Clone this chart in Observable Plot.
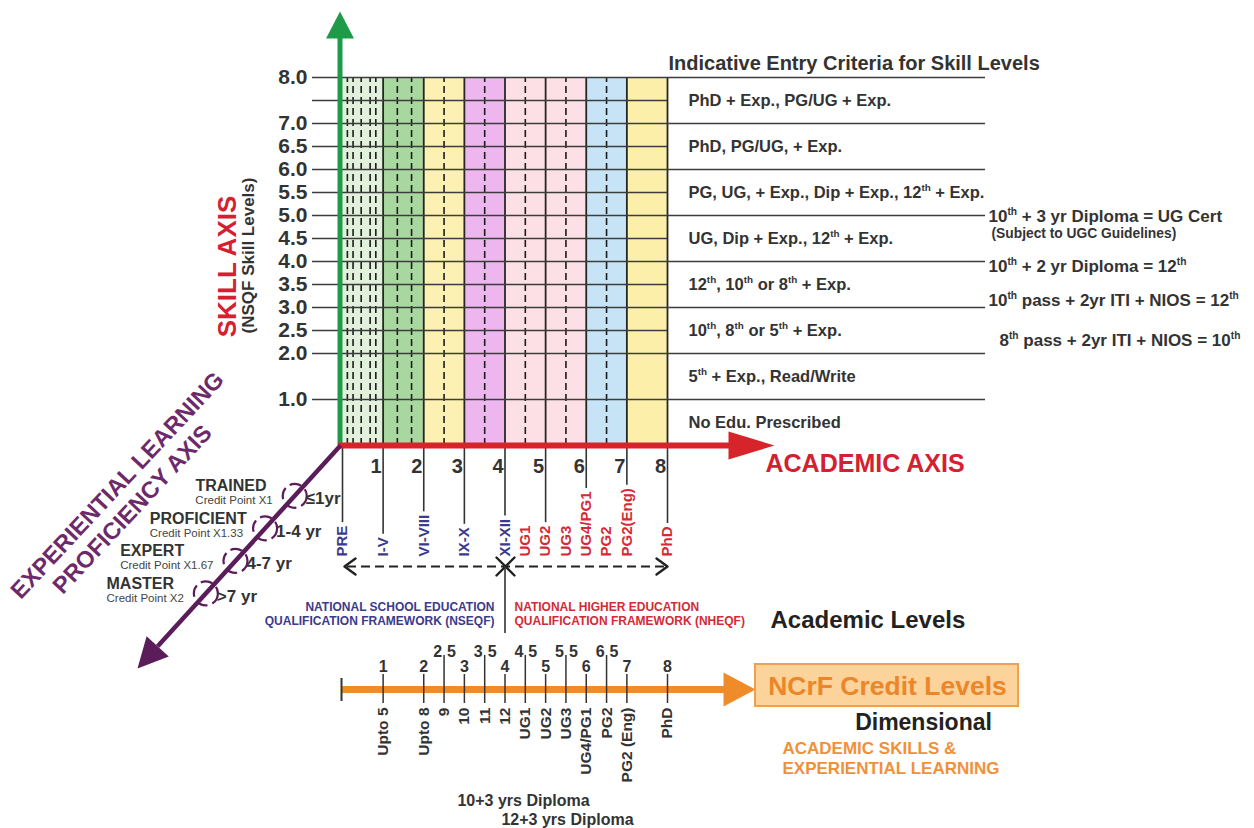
<!DOCTYPE html>
<html><head><meta charset="utf-8">
<script src="https://cdn.jsdelivr.net/npm/d3@7"></script>
<script src="https://cdn.jsdelivr.net/npm/@observablehq/plot@0.6"></script>
<style>
html,body{margin:0;padding:0;background:#fff;}
#chart{width:1254px;height:828px;overflow:hidden;}
</style></head><body><div id="chart"></div>
<script>
// ================= DATA =================
const academicLevels = [0,1,2,3,4,5,6,7,8];
const columnColors = ["#e2f1dc","#a9d7a0","#fcf1b2","#edb6ee","#fde0e5","#fde0e5","#c6e4f6","#fcefa9"];
const subLevelDashes = [0.12,0.26,0.46,0.68,0.82,1.35,1.7,2.5,3.5,4.5,5.5,6.5];
const skillTicks = [8,7.5,7,6.5,6,5.5,5,4.5,4,3.5,3,2.5,2,1];
const skillTickLabels = ["8.0","","7.0","6.5","6.0","5.5","5.0","4.5","4.0","3.5","3.0","2.5","2.0","1.0"];
const criteriaBands = [7.5,6.5,5.5,4.5,3.5,2.5,1.5,0.5];
const criteriaText = ["PhD + Exp., PG/UG + Exp.","PhD, PG/UG, + Exp.","PG, UG, + Exp., Dip + Exp., 12^th + Exp.","UG, Dip + Exp., 12^th + Exp.","12^th, 10^th or 8^th + Exp.","10^th, 8^th or 5^th + Exp.","5^th + Exp., Read/Write","No Edu. Prescribed"];
const equivalenceText = ["10^th + 3 yr Diploma = UG Cert","10^th + 2 yr Diploma = 12^th","10^th pass + 2yr ITI + NIOS = 12^th","8^th pass + 2yr ITI + NIOS = 10^th"];
const equivalenceSkill = [4.98,3.89,3.15,2.28];
const equivalenceNote = "(Subject to UGC Guidelines)";
const schoolLevels = [0,1,2,3,4];
const schoolLabels = ["PRE","I-V","VI-VIII","IX-X","XI-XII"];
const higherLevels = [4.5,5,5.5,6,6.5,7,8];
const higherLabels = ["UG1","UG2","UG3","UG4/PG1","PG2","PG2(Eng)","PhD"];
const creditLevels = [1,2,2.5,3,3.5,4,4.5,5,5.5,6,6.5,7,8];
const creditLabels = ["Upto 5","Upto 8","9","10","11","12","UG1","UG2","UG3","UG4/PG1","PG2","PG2 (Eng)","PhD"];
const diplomaNotes = ["10+3 yrs Diploma","12+3 yrs Diploma"];
const proficiency = ["TRAINED","PROFICIENT","EXPERT","MASTER"];
const creditPoints = ["Credit Point X1","Credit Point X1.33","Credit Point X1.67","Credit Point X2"];
const experience = ["≤1yr","1-4 yr","4-7 yr",">7 yr"];

// ================= LAYOUT =================
const FF = "'Liberation Sans', Arial, Helvetica, sans-serif";
const PX0 = 342, PXU = 40.625, PY0 = 445, PYU = 46;
const X = px => (px - PX0) / PXU;
const Y = py => (PY0 - py) / PYU;
const ctx = document.createElement("canvas").getContext("2d");
const textW = (s, size, weight = "bold") => { ctx.font = `${weight} ${size}px "Liberation Sans"`; return ctx.measureText(s).width; };
const poly = (pts, fill) => Plot.line(pts.map(([a, b]) => ({x: X(a), y: Y(b)})), {x: "x", y: "y", fill, stroke: "none"});
const txt = (data, o) => Plot.text(data, {fontWeight: "bold", fill: "#333", ...o});

// diagonal (experiential) axis geometry
const O = [340, 445], TIP = [137, 668];
const dl = Math.hypot(TIP[0] - O[0], TIP[1] - O[1]);
const u = [(TIP[0] - O[0]) / dl, (TIP[1] - O[1]) / dl];
const pp = [u[1], -u[0]];
const base = [TIP[0] - 30 * u[0], TIP[1] - 30 * u[1]];
const profItems = proficiency.map((name, i) => {
  const t = 68 + 44 * i;
  const cx = O[0] + t * u[0], cy = O[1] + t * u[1];
  const endX = cx - 22;
  const left = endX - textW(creditPoints[i], 11.5, "normal");
  return {name, credit: creditPoints[i], years: experience[i], cx, cy, endX, left};
});

// academic sub-labels
const acadItems = schoolLabels.map((l, i) => ({level: schoolLevels[i], label: l, color: "#3b3a8c"}))
  .concat(higherLabels.map((l, i) => ({level: higherLevels[i], label: l, color: "#d42a36"})));
const LABEL_BASE = 556;
const acadTicks = acadItems.filter(d => Number.isInteger(d.level))
  .map(d => ({level: d.level, top: LABEL_BASE - textW(d.label, 15) - 3}));

const creditItems = creditLevels.map((l, i) => ({level: l, label: creditLabels[i]}));
const halfCredit = creditLevels.filter(l => !Number.isInteger(l));
const intCredit = creditLevels.filter(l => Number.isInteger(l));

const marks = [
  // columns
  Plot.rect(columnColors.map((c, i) => ({c, a: academicLevels[i], b: academicLevels[i + 1]})), {x1: "a", x2: "b", y1: 0, y2: 8, fill: "c"}),
  Plot.ruleX(subLevelDashes, {x: d => d, y1: 0, y2: 8, stroke: "#1c1c1c", strokeWidth: 1.6, strokeDasharray: "7,4"}),
  Plot.ruleX(academicLevels.slice(1), {x: d => d, y1: 0, y2: 8, stroke: "#262626", strokeWidth: 1.8}),
  Plot.ruleY(skillTicks, {y: d => d, x1: X(312), x2: 8, stroke: "#3c3c3c", strokeWidth: 1.6}),
  Plot.ruleY(d3.range(1, 9), {y: d => d, x1: 8, x2: X(985), stroke: "#3c3c3c", strokeWidth: 1.6}),
  txt(skillTicks, {x: X(307), y: d => d, text: (d, i) => skillTickLabels[i], textAnchor: "end", fontSize: 21}),
  // skill axis
  Plot.ruleX([X(339.5)], {x: d => d, y1: 0, y2: Y(36), stroke: "#1d9b48", strokeWidth: 5}),
  poly([[339.5, 11], [325.5, 38], [353.5, 38]], "#1d9b48"),
  txt(["SKILL AXIS"], {x: X(227), y: Y(266), text: d => d, rotate: -90, fontSize: 26, fill: "#d42030"}),
  txt(["(NSQF Skill Levels)"], {x: X(248), y: Y(255), text: d => d, rotate: -90, fontSize: 17}),
  // entry criteria
  txt(["Indicative Entry Criteria for Skill Levels"], {x: X(668), y: Y(63), text: d => d, textAnchor: "start", fontSize: 20}),
  txt(criteriaBands, {x: X(688), y: d => d, text: (d, i) => criteriaText[i], textAnchor: "start", fontSize: 16.5}),
  txt(equivalenceSkill, {x: (d, i) => X(i === 3 ? 999 : 988), y: d => d, text: (d, i) => equivalenceText[i], textAnchor: "start", fontSize: 17}),
  txt([equivalenceNote], {x: X(991), y: Y(233), text: d => d, textAnchor: "start", fontSize: 13.8}),
  // academic axis
  Plot.ruleX(acadTicks, {x: "level", y1: 0, y2: d => Y(d.top), stroke: "#333", strokeWidth: 1.6}),
  Plot.ruleY([0], {y: d => d, x1: X(338), x2: X(730), stroke: "#d7242b", strokeWidth: 6}),
  poly([[774, 445], [728, 431], [728, 459]], "#d7242b"),
  txt(["ACADEMIC AXIS"], {x: X(765), y: Y(463), text: d => d, textAnchor: "start", fontSize: 25, fill: "#d42030"}),
  txt(academicLevels.slice(1), {x: d => d, y: Y(466), dx: -7, text: d => String(d), fontSize: 20}),
  txt(acadItems, {x: "level", y: Y(LABEL_BASE), text: "label", rotate: -90, textAnchor: "start", fontSize: 15, fill: "color"}),
  // framework double arrow
  Plot.ruleY([Y(566)], {y: d => d, x1: X(347), x2: X(664), stroke: "#222", strokeWidth: 2.2, strokeDasharray: "9,5"}),
  Plot.line([
    {g: 0, x: X(355), y: Y(558)}, {g: 0, x: X(344), y: Y(566)}, {g: 0, x: X(355), y: Y(574)},
    {g: 1, x: X(656), y: Y(558)}, {g: 1, x: X(667), y: Y(566)}, {g: 1, x: X(656), y: Y(574)},
    {g: 2, x: X(496), y: Y(557)}, {g: 2, x: X(514), y: Y(575)},
    {g: 3, x: X(496), y: Y(575)}, {g: 3, x: X(514), y: Y(557)}
  ], {x: "x", y: "y", z: "g", stroke: "#222", strokeWidth: 2.4}),
  Plot.ruleX([4], {x: d => d, y1: Y(566), y2: Y(633), stroke: "#333", strokeWidth: 1.6}),
  txt(["NATIONAL SCHOOL EDUCATION\nQUALIFICATION FRAMEWORK (NSEQF)"], {x: X(494), y: Y(613), text: d => d, textAnchor: "end", fontSize: 12, lineHeight: 1.2, fill: "#3b3a8c"}),
  txt(["NATIONAL HIGHER EDUCATION\nQUALIFICATION FRAMEWORK (NHEQF)"], {x: X(514), y: Y(613), text: d => d, textAnchor: "start", fontSize: 12, lineHeight: 1.2, fill: "#d42a36"}),
  txt(["Academic Levels"], {x: X(770), y: Y(620), text: d => d, textAnchor: "start", fontSize: 24, fill: "#222"}),
  // credit axis
  Plot.ruleY([Y(689)], {y: d => d, x1: X(341), x2: X(726), stroke: "#f08b2a", strokeWidth: 7}),
  poly([[755, 689], [723, 672], [723, 706]], "#f08b2a"),
  Plot.ruleX([X(341)], {x: d => d, y1: Y(678), y2: Y(701), stroke: "#333", strokeWidth: 2}),
  Plot.ruleX(intCredit, {x: d => d, y1: Y(674), y2: Y(703), stroke: "#333", strokeWidth: 1.5}),
  Plot.ruleX(halfCredit, {x: d => d, y1: Y(655), y2: Y(703), stroke: "#333", strokeWidth: 1.5}),
  txt(intCredit, {x: d => d, y: Y(666), text: d => String(d), fontSize: 16}),
  txt(halfCredit, {x: d => d, y: Y(651), dx: -2, text: d => String(Math.floor(d)), textAnchor: "end", fontSize: 16}),
  txt(halfCredit, {x: d => d, y: Y(651), dx: 3, text: d => String(Math.round((d % 1) * 10)), textAnchor: "start", fontSize: 16}),
  txt(creditItems, {x: "level", y: Y(707), text: "label", rotate: -90, textAnchor: "end", fontSize: 15.5}),
  txt(diplomaNotes, {x: (d, i) => X(523 + 44 * i), y: (d, i) => Y(800 + 19 * i), text: d => d, fontSize: 16}),
  Plot.rect([0], {x1: X(755), x2: X(1018), y1: Y(706), y2: Y(664), fill: "#fcd39b", stroke: "#f0a04a", strokeWidth: 2}),
  txt(["NCrF Credit Levels"], {x: X(887), y: Y(686), text: d => d, fontSize: 26.5, fill: "#ec862a"}),
  txt(["Dimensional"], {x: X(923), y: Y(722), text: d => d, fontSize: 23, fill: "#222"}),
  txt(["ACADEMIC SKILLS &", "EXPERIENTIAL LEARNING"], {x: X(782), y: (d, i) => Y(748 + 20 * i), text: d => d, textAnchor: "start", fontSize: 17, fill: "#f0913a"}),
  // experiential axis
  Plot.line([O, base].map(([a, b]) => ({x: X(a), y: Y(b)})), {x: "x", y: "y", stroke: "#5b1d5a", strokeWidth: 4.5, strokeLinecap: "butt"}),
  poly([TIP, [base[0] + 15 * pp[0], base[1] + 15 * pp[1]], [base[0] - 15 * pp[0], base[1] - 15 * pp[1]]], "#5b1d5a"),
  Plot.dot(profItems, {x: d => X(d.cx), y: d => Y(d.cy), r: 12, fill: "none", stroke: "#5b1d5a", strokeWidth: 2.2, strokeDasharray: "12,5"}),
  txt(profItems, {x: d => X(d.left), y: d => Y(d.cy - 9.5), text: "name", textAnchor: "start", fontSize: 16}),
  txt(profItems, {x: d => X(d.endX), y: d => Y(d.cy + 4.5), text: "credit", textAnchor: "end", fontSize: 11.5, fontWeight: "normal", fill: "#444"}),
  txt(profItems, {x: d => X(d.cx + 11), y: d => Y(d.cy + 3), text: "years", textAnchor: "start", fontSize: 17}),
  txt(["EXPERIENTIAL LEARNING", "PROFICIENCY AXIS"], {x: (d, i) => X([117, 132][i]), y: (d, i) => Y([485, 509][i]), text: d => d, rotate: -47, fontSize: 23.5, fill: "#6d2a6b"})
];

const chart = Plot.plot({
  width: 1254, height: 828, margin: 0,
  x: {domain: [0, 8], range: [PX0, PX0 + 8 * PXU], axis: null},
  y: {domain: [0, 8], range: [PY0, PY0 - 8 * PYU], axis: null},
  color: {type: "identity"},
  style: {fontFamily: FF, background: "#fff", overflow: "visible"},
  marks
});
document.getElementById("chart").appendChild(chart);

// superscripts "^th"
chart.querySelectorAll("text").forEach(t => {
  const s = t.textContent;
  if (!s.includes("^")) return;
  const fs = parseFloat(getComputedStyle(t).fontSize) || 16;
  while (t.firstChild) t.removeChild(t.firstChild);
  let raised = false;
  s.split(/\^(th)/).forEach((p, k) => {
    if (!p) return;
    const ts = document.createElementNS("http://www.w3.org/2000/svg", "tspan");
    ts.textContent = p;
    if (k % 2 === 1) { ts.setAttribute("font-size", (fs * 0.6) + "px"); ts.setAttribute("dy", -fs * 0.4); raised = true; }
    else if (raised) { ts.setAttribute("dy", fs * 0.4); raised = false; }
    t.appendChild(ts);
  });
});
</script></body></html>
